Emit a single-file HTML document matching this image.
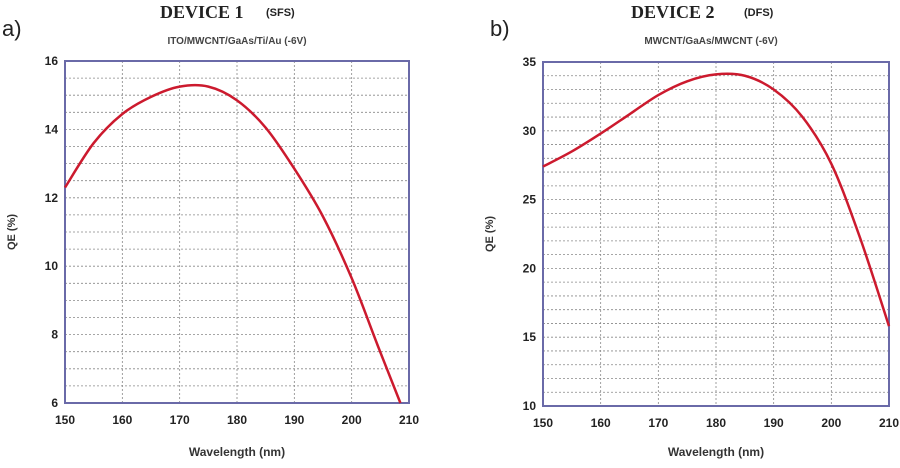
<!DOCTYPE html>
<html><head><meta charset="utf-8"><style>
body{margin:0;background:#fff;width:900px;height:463px;overflow:hidden}
svg text{font-family:"Liberation Sans",sans-serif}
</style></head><body>
<svg id="c" width="900" height="463">
<text x="2" y="36" font-size="22" fill="#222">a)</text>
<text x="490" y="36" font-size="22" fill="#222">b)</text>
<text x="160" y="18" font-weight="bold" font-size="18" fill="#222" style="font-family:'Liberation Serif',serif">DEVICE 1</text>
<text x="266" y="16" font-size="11" font-weight="bold" fill="#222">(SFS)</text>
<text x="237" y="44" font-size="10" font-weight="bold" fill="#444" text-anchor="middle">ITO/MWCNT/GaAs/Ti/Au (-6V)</text>
<text x="631" y="18" font-weight="bold" font-size="18" fill="#222" style="font-family:'Liberation Serif',serif">DEVICE 2</text>
<text x="744" y="16" font-size="11" font-weight="bold" fill="#222">(DFS)</text>
<text x="711" y="44" font-size="10" font-weight="bold" fill="#444" text-anchor="middle">MWCNT/GaAs/MWCNT (-6V)</text>
</svg>
<script>
const xTicks=[150,160,170,180,190,200,210];
const aX=[150,155,160,165,170,175,180,185,190,195,200,204.5,208.5];
const aY=[12.3,13.6,14.45,14.95,15.25,15.25,14.85,14.05,12.85,11.45,9.65,7.7,6.0];
const aYTicks=[6,8,10,12,14,16];
const bX=[150,155,160,165,170,175,180,185,190,195,200,205,210];
const bY=[27.4,28.5,29.8,31.2,32.6,33.6,34.1,34.0,33.0,31.0,27.6,22.2,15.8];
const bYTicks=[10,15,20,25,30,35];
const NS="http://www.w3.org/2000/svg",svg=document.getElementById('c');
function mk(t,a,p){const e=document.createElementNS(NS,t);for(const k in a)e.setAttribute(k,a[k]);(p||svg).appendChild(e);return e;}
function panel(id,L,T,R,B,ymin,ymax,minor,xs,ys,yt){
 const g=mk('g',{});
 
 
 const sx=v=>L+(v-150)/60*(R-L), sy=v=>B-(v-ymin)/(ymax-ymin)*(B-T);
 for(let v=ymin+minor;v<ymax-1e-9;v+=minor){const l=mk('line',{x1:L,x2:R,y1:sy(v),y2:sy(v),stroke:'#888','stroke-width':0.8,'stroke-dasharray':'2,2'},g);
  
  }
 xTicks.slice(1,-1).forEach(v=>{const l=mk('line',{x1:sx(v),x2:sx(v),y1:T,y2:B,stroke:'#888','stroke-width':0.8,'stroke-dasharray':'2,2'},g);
  
  });
 const fr=mk('rect',{x:L,y:T,width:R-L,height:B-T,fill:'none',stroke:'#6a6aa8','stroke-width':2},g);
 
 
 xTicks.forEach(v=>{const t=mk('text',{x:sx(v),y:B+21,'font-size':12,'font-weight':'bold','text-anchor':'middle',fill:'#222'},g);t.textContent=v;
  
  });
 yt.forEach(v=>{const t=mk('text',{x:L-7,y:sy(v)+4,'font-size':12,'font-weight':'bold','text-anchor':'end',fill:'#222'},g);t.textContent=v;
  
  });
 const xl=mk('text',{x:(L+R)/2,y:456,'font-size':12,'font-weight':'bold','text-anchor':'middle',fill:'#333'},g);xl.textContent='Wavelength (nm)';
 
 
 const cy=(T+B)/2;
 const yl=mk('text',{x:L-50,y:cy,'font-size':11,'font-weight':'bold','text-anchor':'middle',fill:'#333',transform:`rotate(-90 ${L-50} ${cy})`},g);yl.textContent='QE (%)';
 
 
 const P=xs.map((x,i)=>[sx(x),sy(ys[i])]);
 let d='M'+P[0][0]+','+P[0][1];
 for(let i=0;i<P.length-1;i++){const p0=P[Math.max(i-1,0)],p1=P[i],p2=P[i+1],p3=P[Math.min(i+2,P.length-1)];
  d+=` C${p1[0]+(p2[0]-p0[0])/6},${p1[1]+(p2[1]-p0[1])/6} ${p2[0]-(p3[0]-p1[0])/6},${p2[1]-(p3[1]-p1[1])/6} ${p2[0]},${p2[1]}`;}
 const ln=mk('path',{d:d,fill:'none',stroke:'#cc1a2e','stroke-width':2.5},g);
 
 
}
panel('device1',65,61,409,403,6,16,0.5,aX,aY,aYTicks);
panel('device2',543,62,889,406,10,35,1,bX,bY,bYTicks);
</script>
</body></html>
